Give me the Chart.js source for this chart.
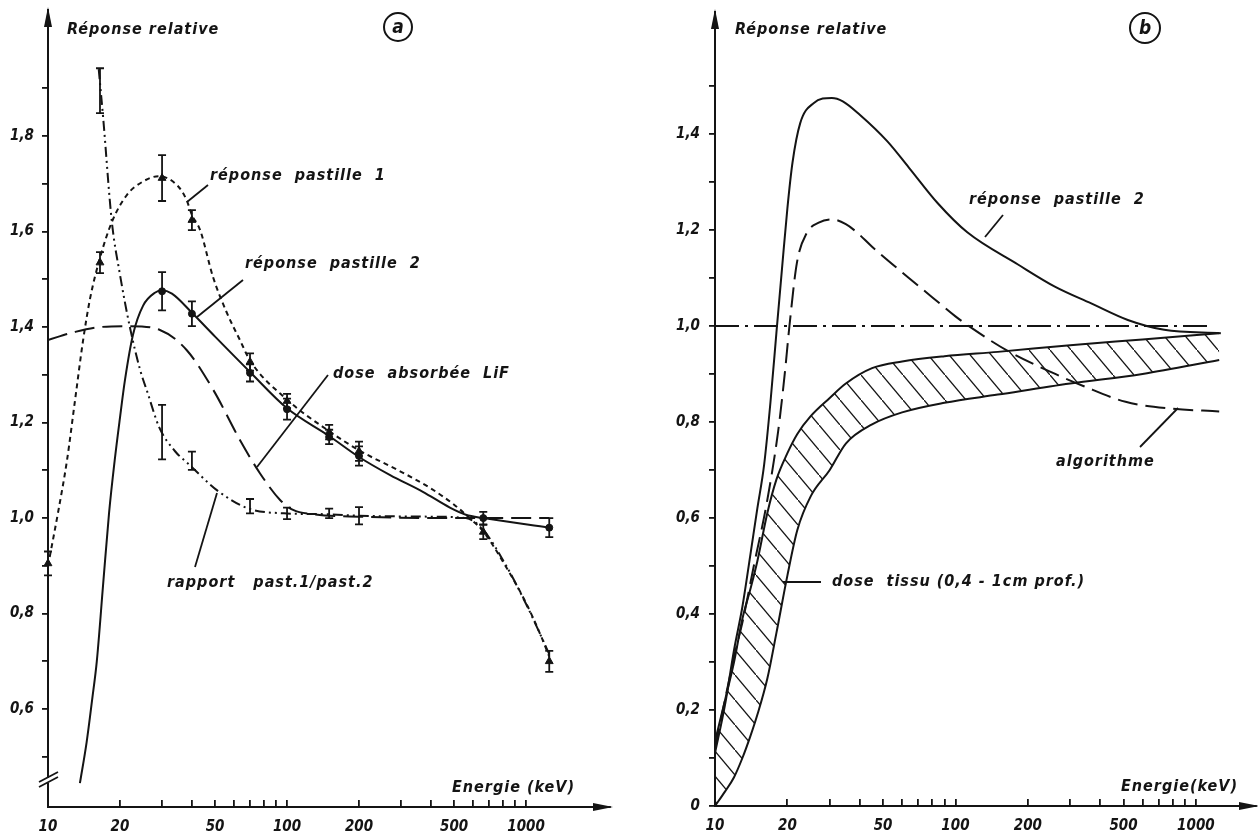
<!DOCTYPE html>
<html>
<head>
<meta charset="utf-8">
<script src="https://cdn.jsdelivr.net/npm/chart.js@4.4.0/dist/chart.umd.min.js"></script>
<style>
  html, body { margin: 0; padding: 0; background: #fff; }
  #wrap { position: relative; width: 1258px; height: 839px; background: #fff; }
  canvas { position: absolute; left: 0; top: 0; }
</style>
</head>
<body>
<div id="wrap">
  <canvas id="chartA" width="1258" height="839"></canvas>
  <canvas id="chartB" width="1258" height="839"></canvas>
</div>
<script>
// ---------- shared axis data ----------
const energyTicks = [10, 20, 30, 40, 50, 60, 70, 80, 90, 100, 200, 300, 400, 500, 600, 700, 800, 900, 1000];
const energyLabels = [10, 20, 50, 100, 200, 500, 1000];

// ---------- panel a ----------
const yTicksA = [0.5, 0.6, 0.7, 0.8, 0.9, 1.0, 1.1, 1.2, 1.3, 1.4, 1.5, 1.6, 1.7, 1.8, 1.9];
const yLabelsA = [0.6, 0.8, 1.0, 1.2, 1.4, 1.6, 1.8];

// réponse pastille 1 (short dashes)
const past1E = [10, 11, 12, 13, 14, 15, 16.5, 18.5, 21.4, 25, 29, 35, 38, 40, 43.3, 49, 56, 63.5, 70, 100, 150, 200, 300, 400, 500, 580, 662, 826, 1000, 1150, 1250];
const past1V = [0.90, 1.01, 1.12, 1.25, 1.37, 1.46, 1.545, 1.62, 1.677, 1.705, 1.716, 1.695, 1.666, 1.635, 1.603, 1.505, 1.43, 1.373, 1.33, 1.248, 1.182, 1.142, 1.097, 1.062, 1.028, 1.0, 0.972, 0.897, 0.822, 0.755, 0.71];
// réponse pastille 2 (solid)
const past2E = [13.6, 14.5, 15.3, 16, 17, 18, 19, 20, 21, 22.7, 25, 28, 30, 33, 40, 50, 70, 100, 150, 200, 270, 370, 480, 560, 662, 1250];
const past2V = [0.445, 0.53, 0.62, 0.70, 0.86, 1.01, 1.12, 1.21, 1.29, 1.385, 1.445, 1.472, 1.477, 1.47, 1.43, 1.38, 1.306, 1.23, 1.172, 1.128, 1.09, 1.055, 1.022, 1.007, 1.0, 0.98];
// dose absorbée LiF (long dashes)
const lifE = [10, 13, 16.5, 22, 29.4, 38, 49.2, 63.6, 77, 93.5, 106, 130, 200, 500, 1250];
const lifV = [1.373, 1.39, 1.40, 1.402, 1.394, 1.352, 1.268, 1.163, 1.094, 1.038, 1.017, 1.008, 1.003, 1.0, 1.0];
// rapport past.1/past.2 (dash-dot-dot)
const ratioE = [16.3, 17, 18.5, 20, 22, 24.3, 26, 29.2, 34, 39, 51, 69, 97, 150, 200, 400, 560, 662, 826, 1000, 1150, 1250];
const ratioV = [1.94, 1.84, 1.62, 1.51, 1.40, 1.31, 1.265, 1.19, 1.14, 1.112, 1.058, 1.02, 1.01, 1.008, 1.005, 1.003, 1.0, 0.975, 0.90, 0.82, 0.755, 0.715];

// measured points with error bars
const pt1E = [10, 16.5, 30, 40, 70, 100, 150, 200, 662, 1250];
const pt1V = [0.905, 1.535, 1.712, 1.624, 1.327, 1.245, 1.18, 1.14, 0.971, 0.70];
const pt1Err = [0.025, 0.022, 0.048, 0.021, 0.018, 0.015, 0.015, 0.02, 0.015, 0.022];
const pt2E = [30, 40, 70, 100, 150, 200, 662, 1250];
const pt2V = [1.475, 1.428, 1.304, 1.228, 1.17, 1.13, 1.0, 0.98];
const pt2Err = [0.04, 0.026, 0.018, 0.022, 0.015, 0.02, 0.013, 0.02];
const ptRE = [16.5, 30, 40, 70, 100, 150, 200];
const ptRV = [1.895, 1.18, 1.12, 1.025, 1.01, 1.01, 1.005];
const ptRErr = [0.047, 0.057, 0.019, 0.015, 0.012, 0.01, 0.018];

// ---------- panel b ----------
const yTicksB = [0, 0.1, 0.2, 0.3, 0.4, 0.5, 0.6, 0.7, 0.8, 0.9, 1.0, 1.1, 1.2, 1.3, 1.4, 1.5];
const yLabelsB = [0, 0.2, 0.4, 0.6, 0.8, 1.0, 1.2, 1.4];

const respE = [10, 11, 12, 13, 14, 15, 16, 17, 18, 19, 20, 21, 22.6, 25.7, 30.6, 34, 40, 52, 64, 84.6, 112, 182, 259, 367, 521, 738, 1270];
const respV = [0.11, 0.21, 0.325, 0.415, 0.52, 0.62, 0.71, 0.84, 0.985, 1.12, 1.245, 1.34, 1.422, 1.464, 1.475, 1.468, 1.44, 1.385, 1.33, 1.255, 1.195, 1.128, 1.082, 1.047, 1.0125, 0.992, 0.985];
const algoE = [10, 12, 13.1, 14.5, 16.4, 18.3, 19.5, 20.4, 21.9, 24.1, 27, 30.6, 35, 38.9, 45, 64, 80, 100, 115, 165, 260, 340, 510, 780, 1250];
const algoV = [0.12, 0.31, 0.39, 0.50, 0.63, 0.78, 0.90, 1.0, 1.131, 1.194, 1.215, 1.222, 1.212, 1.195, 1.165, 1.10, 1.06, 1.02, 0.998, 0.948, 0.90, 0.875, 0.842, 0.828, 0.822];
const refE = [10, 1170];
const refV = [1.0, 1.0];
const bandE = [10, 11, 12, 13, 14, 15, 16.5, 18, 20, 22, 25, 30, 35, 45, 60, 90, 150, 300, 600, 1250];
const bandHi = [0.135, 0.22, 0.30, 0.39, 0.45, 0.51, 0.61, 0.68, 0.735, 0.775, 0.812, 0.85, 0.88, 0.912, 0.926, 0.937, 0.946, 0.96, 0.972, 0.985];
const bandLo = [0, 0.03, 0.06, 0.10, 0.144, 0.19, 0.265, 0.36, 0.48, 0.575, 0.645, 0.70, 0.755, 0.795, 0.82, 0.84, 0.857, 0.88, 0.90, 0.929];

// ---------- styling ----------
const INK = '#141414';
const FAMILY = '"DejaVu Sans Condensed", "DejaVu Sans", sans-serif';
const TICK_FONT = { family: FAMILY, size: 15, style: 'italic', weight: 'bold' };
const LABEL_FONT = 'italic bold 16px ' + FAMILY;

function pts(E, V) { return E.map((e, i) => ({ x: e, y: V[i] })); }

function curve(E, V, dash, extra) {
    return Object.assign({
        data: pts(E, V),
        borderColor: INK,
        borderWidth: 2,
        borderDash: dash,
        pointRadius: 0,
        fill: false,
        cubicInterpolationMode: 'monotone',
        order: 2
    }, extra || {});
}

function markers(E, V, errs, style, radius) {
    return {
        data: pts(E, V),
        errors: errs,
        showLine: false,
        pointStyle: style,
        pointRadius: radius,
        pointBackgroundColor: INK,
        pointBorderColor: INK,
        clip: false,
        order: 1
    };
}

function fmt(v) { return Math.abs(v) < 1e-9 ? '0' : v.toFixed(1).replace('.', ','); }

function xAxis(min, max) {
    return {
        type: 'logarithmic', min: min, max: max,
        border: { display: true, color: INK, width: 2 },
        grid: { drawOnChartArea: false, drawTicks: true, tickLength: -7, color: INK, lineWidth: 1.8 },
        ticks: {
            color: INK, font: TICK_FONT, padding: 18, autoSkip: false, maxRotation: 0,
            callback: v => energyLabels.includes(v) ? String(v) : ''
        },
        afterBuildTicks: s => { s.ticks = energyTicks.map(v => ({ value: v })); },
        afterFit: s => { s.height = 32; s.paddingLeft = 0; s.paddingRight = 0; }
    };
}

function yAxis(min, max, tickVals, labelVals, pad) {
    return {
        type: 'linear', min: min, max: max,
        border: { display: true, color: INK, width: 2 },
        grid: { drawOnChartArea: false, drawTicks: true, tickLength: 6, color: INK, lineWidth: 1.8 },
        ticks: {
            color: INK, font: TICK_FONT, padding: pad, autoSkip: false,
            callback: v => labelVals.some(l => Math.abs(l - v) < 1e-6) ? fmt(v) : ''
        },
        afterBuildTicks: s => { s.ticks = tickVals.map(v => ({ value: v })); },
        afterFit: s => { s.width = 48; s.paddingTop = 0; s.paddingBottom = 0; }
    };
}

// error bars drawn through the chart scales
const errorBars = {
    id: 'errorBars',
    afterDatasetsDraw(chart) {
        const ctx = chart.ctx, xs = chart.scales.x, ys = chart.scales.y;
        ctx.save();
        ctx.strokeStyle = INK;
        ctx.lineWidth = 1.8;
        chart.data.datasets.forEach(ds => {
            if (!ds.errors) return;
            ds.data.forEach((p, i) => {
                const e = ds.errors[i];
                const px = xs.getPixelForValue(p.x);
                const y1 = ys.getPixelForValue(p.y - e);
                const y2 = ys.getPixelForValue(p.y + e);
                ctx.beginPath();
                ctx.moveTo(px, y1); ctx.lineTo(px, y2);
                ctx.moveTo(px - 4, y1); ctx.lineTo(px + 4, y1);
                ctx.moveTo(px - 4, y2); ctx.lineTo(px + 4, y2);
                ctx.stroke();
            });
        });
        ctx.restore();
    }
};

// arrows, captions, leader lines, panel letter
function decor(spec) {
    return {
        id: 'decor',
        afterDraw(chart) {
            const ctx = chart.ctx, a = chart.chartArea;
            ctx.save();
            ctx.fillStyle = INK;
            ctx.strokeStyle = INK;

            // axis arrow heads
            ctx.beginPath();
            ctx.moveTo(a.left, a.top - 3); ctx.lineTo(a.left - 4, a.top + 17); ctx.lineTo(a.left + 4, a.top + 17);
            ctx.closePath(); ctx.fill();
            ctx.beginPath();
            ctx.moveTo(a.right + 3, a.bottom); ctx.lineTo(a.right - 17, a.bottom - 4); ctx.lineTo(a.right - 17, a.bottom + 4);
            ctx.closePath(); ctx.fill();

            // captions
            ctx.font = LABEL_FONT;
            ctx.textBaseline = 'middle';
            ctx.textAlign = 'left';
            ctx.letterSpacing = '1px';
            spec.texts.forEach(t => ctx.fillText(t[0], t[1], t[2]));

            // leader lines
            ctx.lineWidth = 1.8;
            spec.leaders.forEach(l => {
                ctx.beginPath(); ctx.moveTo(l[0], l[1]); ctx.lineTo(l[2], l[3]); ctx.stroke();
            });

            // circled panel letter
            const c = spec.circle;
            ctx.lineWidth = 2;
            ctx.beginPath(); ctx.arc(c.x, c.y, c.r, 0, Math.PI * 2); ctx.stroke();
            ctx.letterSpacing = '0px';
            ctx.textAlign = 'center';
            ctx.font = 'italic bold 19px ' + FAMILY;
            ctx.fillText(c.s, c.x, c.y + 1);

            // broken-axis mark
            if (spec.breakY) {
                const y = spec.breakY;
                ctx.fillStyle = '#fff';
                ctx.fillRect(a.left - 3, y - 3, 6, 5);
                ctx.lineWidth = 1.8;
                ctx.beginPath();
                ctx.moveTo(a.left - 9, y + 6); ctx.lineTo(a.left + 10, y - 4);
                ctx.moveTo(a.left - 9, y + 1); ctx.lineTo(a.left + 10, y - 9);
                ctx.stroke();
            }
            ctx.restore();
        }
    };
}

function hatchPattern(ctx) {
    const c = document.createElement('canvas');
    c.width = 21; c.height = 25;
    const g = c.getContext('2d');
    g.strokeStyle = INK;
    g.lineWidth = 1.3;
    g.beginPath(); g.moveTo(-2, -2.4); g.lineTo(23, 27.4); g.stroke();
    return ctx.createPattern(c, 'repeat');
}

function baseOptions(padding, xMin, xMax, yMin, yMax, yt, yl, ypad) {
    return {
        responsive: false,
        animation: false,
        devicePixelRatio: 1,
        layout: { padding: padding },
        plugins: { legend: { display: false }, tooltip: { enabled: false }, title: { display: false } },
        elements: { line: { tension: 0.4 } },
        scales: { x: xAxis(xMin, xMax), y: yAxis(yMin, yMax, yt, yl, ypad) }
    };
}

// ---------- chart a ----------
new Chart(document.getElementById('chartA'), {
    type: 'line',
    data: {
        datasets: [
            curve(past1E, past1V, [5, 4]),
            curve(past2E, past2V, []),
            curve(lifE, lifV, [20, 8]),
            curve(ratioE, ratioV, [10, 4, 2, 4, 2, 4]),
            markers(pt1E, pt1V, pt1Err, 'triangle', 4.5),
            markers(pt2E, pt2V, pt2Err, 'circle', 3.5),
            markers(ptRE, ptRV, ptRErr, 'circle', 0)
        ]
    },
    options: baseOptions({ left: 0, top: 10, right: 648, bottom: 0 }, 10, 2244, 0.395, 2.064, yTicksA, yLabelsA, 8),
    plugins: [errorBars, decor({
        texts: [
            ['Réponse relative', 67, 30],
            ['réponse  pastille  1', 210, 176],
            ['réponse  pastille  2', 245, 264],
            ['dose  absorbée  LiF', 333, 374],
            ['rapport   past.1/past.2', 167, 583],
            ['Energie (keV)', 452, 788]
        ],
        leaders: [[187, 202, 208, 185], [197, 317, 243, 280], [257, 467, 328, 375], [195, 567, 217, 493]],
        circle: { s: 'a', x: 398, y: 27, r: 14 },
        breakY: 781
    })]
});

// ---------- chart b ----------
const ctxB = document.getElementById('chartB').getContext('2d');
new Chart(ctxB, {
    type: 'line',
    data: {
        datasets: [
            curve(bandE, bandHi, [], { fill: '+1', backgroundColor: hatchPattern(ctxB), order: 3 }),
            curve(bandE, bandLo, [], { order: 3 }),
            curve(respE, respV, []),
            curve(algoE, algoV, [20, 8]),
            curve(refE, refV, [24, 6, 3, 6], { tension: 0 })
        ]
    },
    options: baseOptions({ left: 667, top: 12, right: 2, bottom: 1 }, 10, 1778, 0, 1.654, yTicksB, yLabelsB, 9),
    plugins: [decor({
        texts: [
            ['Réponse relative', 735, 30],
            ['réponse  pastille  2', 969, 200],
            ['algorithme', 1056, 462],
            ['dose  tissu (0,4 - 1cm prof.)', 832, 582],
            ['Energie(keV)', 1121, 787]
        ],
        leaders: [[985, 237, 1003, 215], [1140, 447, 1178, 408], [783, 582, 821, 582]],
        circle: { s: 'b', x: 1145, y: 28, r: 15 }
    })]
});
</script>
</body>
</html>
